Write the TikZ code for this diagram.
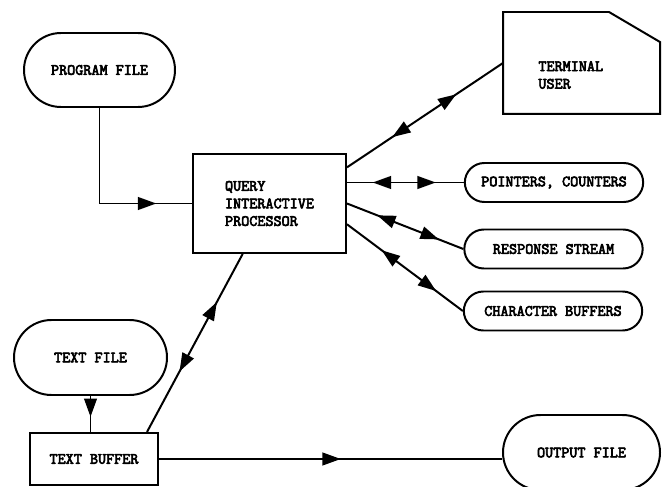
\documentclass[tikz,border=0pt]{standalone}
\usepackage{fontspec}
\newfontfamily\macchina{Latin Modern Mono}[FakeBold=4]
\usetikzlibrary{arrows.meta, shapes.misc, decorations.markings}

\begin{document}
\begin{tikzpicture}[
  font=\macchina\fontsize{13.4}{15}\selectfont,
  linea/.style={draw=black, line width=1.7pt},
  archivio/.style={rounded rectangle, draw=black, line width=1.7pt, inner sep=0pt},
  blocco/.style={rectangle, draw=black, line width=1.7pt, inner sep=0pt, align=left},
  etichetta/.style={inner sep=1pt, align=left},
  punta/.tip={Triangle[length=0.55cm, width=0.38cm]},
  singola/.style={postaction={decorate}, decoration={markings, mark=at position #1 with {\arrow{punta}}}},
  doppia/.style 2 args={postaction={decorate}, decoration={markings, mark=at position #1 with {\arrowreversed{punta}}, mark=at position #2 with {\arrow{punta}}}}
]

%--------------------------------------------------------------
% Cornice
%--------------------------------------------------------------
\useasboundingbox (0.000,0.000) rectangle (19.950,-14.610);

%--------------------------------------------------------------
% Archivi e blocchi
%--------------------------------------------------------------
\node[archivio, minimum width=4.53cm, minimum height=2.22cm] (programma) at (2.985,-2.100) {PROGRAM FILE};
\node[blocco, minimum width=4.59cm, minimum height=2.97cm] (processore) at (8.085,-6.105) {QUERY\\INTERACTIVE\\PROCESSOR};
% terminale con angolo tagliato
\node[blocco, draw=none, minimum width=4.65cm, minimum height=3.00cm] (terminale) at (17.445,-1.890) {};
\draw[linea] (terminale.south west) -- (terminale.north west) -- ([xshift=-1.53cm]terminale.north east)
  -- ([yshift=-0.90cm]terminale.north east) -- (terminale.south east) -- cycle;
\node[etichetta, anchor=west] (termtesto) at (16.110,-2.250) {TERMINAL\\USER};
% archivi di lavoro
\node[archivio, minimum width=5.35cm, minimum height=1.17cm] (puntatori) at (16.620,-5.475) {POINTERS, COUNTERS};
\node[archivio, minimum width=5.35cm, minimum height=1.17cm] (risposta) at (16.605,-7.470) {RESPONSE STREAM};
\node[archivio, minimum width=5.35cm, minimum height=1.17cm] (caratteri) at (16.590,-9.330) {CHARACTER BUFFERS};
% testo e uscita
\node[archivio, minimum width=4.59cm, minimum height=2.25cm] (testo) at (2.715,-10.725) {TEXT FILE};
\node[blocco, minimum width=3.84cm, minimum height=1.56cm] (buffer) at (2.820,-13.770) {TEXT BUFFER};
\node[archivio, minimum width=4.71cm, minimum height=2.25cm] (uscita) at (17.445,-13.575) {OUTPUT FILE};

%--------------------------------------------------------------
% Collegamenti
%--------------------------------------------------------------
\draw[linea, singola=0.81] (programma.south) |- (processore.west);
\draw[linea, doppia={0.29}{0.70}] (processore.25) -- (terminale.west);
\draw[linea, doppia={0.22}{0.76}] (processore.east |- puntatori.west) -- (puntatori.west);
\draw[linea, doppia={0.26}{0.79}] (processore.east) -- (risposta.west);
\draw[linea, doppia={0.30}{0.77}] (processore.-15) -- (caratteri.west);
\draw[linea, doppia={0.34}{0.73}] (buffer.27) -- (processore.242);
\draw[linea, singola=0.58] (testo.south) -- (testo.south |- buffer.north);
\draw[linea, singola=0.53] (buffer.east) -- (buffer.east -| uscita.west);

\end{tikzpicture}
\end{document}
